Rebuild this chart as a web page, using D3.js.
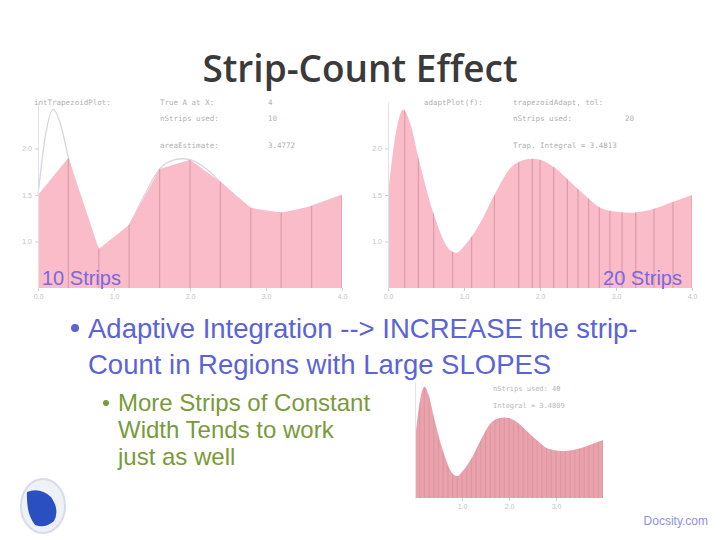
<!DOCTYPE html>
<html>
<head>
<meta charset="utf-8">
<script src="https://cdn.jsdelivr.net/npm/d3@7"></script>
<style>
  body { margin: 0; background: #fff; }
  svg { display: block; }
</style>
</head>
<body>
<div id="chart-container"></div>
<script>
const curveX = [0, 0.1, 0.2, 0.3, 0.4, 0.6, 0.8, 0.9, 1.0, 1.2, 1.4, 1.6, 1.8, 1.9, 2.0, 2.2, 2.4, 2.6, 2.8, 3.0, 3.2, 3.4, 3.6, 3.8, 4.0];
const curveY = [1.50, 2.15, 2.42, 2.25, 1.90, 1.30, 0.92, 0.88, 0.95, 1.18, 1.50, 1.78, 1.88, 1.89, 1.88, 1.79, 1.64, 1.49, 1.36, 1.32, 1.31, 1.33, 1.38, 1.44, 1.50];

// Bornes des bandes (strips)
const strips10 = [0, 0.4, 0.8, 1.2, 1.6, 2.0, 2.4, 2.8, 3.2, 3.6, 4.0];
const strips20 = [0, 0.22, 0.4, 0.6, 0.85, 1.1, 1.4, 1.72, 1.9, 2.0, 2.18, 2.36, 2.5, 2.64, 2.78, 2.92, 3.08, 3.26, 3.5, 3.75, 4.0];
const stripsMany = [0, 0.1, 0.2, 0.3, 0.4, 0.5, 0.6, 0.7, 0.8, 0.9, 1.0, 1.1, 1.2, 1.3, 1.4, 1.5, 1.6, 1.7, 1.8, 1.9, 2.0,
                    2.1, 2.2, 2.3, 2.4, 2.5, 2.6, 2.7, 2.8, 2.9, 3.0, 3.1, 3.2, 3.3, 3.4, 3.5, 3.6, 3.7, 3.8, 3.9, 4.0];

// Graduations
const xTicks = [0, 1, 2, 3, 4];
const xTicksSmall = [1, 2, 3];
const yTicks = [1, 1.5, 2];

// Textes
const titleText = "Strip-Count Effect";
const bulletLines = ["Adaptive Integration --> INCREASE the strip-", "Count in Regions with Large SLOPES"];
const subLines = ["More Strips of Constant", "Width Tends to work", "just as well"];
const panelNotes1 = [["intTrapezoidPlot:", "True A at X:", "4"], ["", "nStrips used:", "10"], ["", "areaEstimate:", "3.4772"]];
const panelNotes2 = [["adaptPlot(f):", "trapezoidAdapt, tol:", ""], ["", "nStrips used:", "20"], ["", "Trap. Integral = 3.4813", ""]];
const panelNotes3 = ["nStrips used: 40", "Integral = 3.4809"];

const points = curveX.map((x, i) => ({ x: x, y: curveY[i] }));
const valueAt = x => points.find(p => Math.abs(p.x - x) < 1e-9);

const svg = d3.select("#chart-container")
    .append("svg")
    .attr("width", 720)
    .attr("height", 540);

const defs = svg.append("defs");

// Titre
svg.append("text")
    .attr("x", 360)
    .attr("y", 82)
    .attr("text-anchor", "middle")
    .style("font-family", "'Open Sans', sans-serif")
    .style("font-size", "37px")
    .style("font-weight", 600)
    .style("fill", "#3a3a3a")
    .text(titleText);

// Fonction pour dessiner un panneau
function drawPanel(opt) {
    const x = d3.scaleLinear().domain([0, 4]).range(opt.xRange);
    const y = d3.scaleLinear().domain([0.5, 2.5]).range(opt.yRange);
    const g = svg.append("g");

    const smooth = d3.area()
        .x(d => x(d.x))
        .y0(y(0.5))
        .y1(d => y(d.y))
        .curve(d3.curveMonotoneX);

    const line = d3.line()
        .x(d => x(d.x))
        .y(d => y(d.y))
        .curve(d3.curveMonotoneX);

    let shapePath;
    if (opt.trapezoid) {
        const trap = opt.strips.map(s => valueAt(s));
        shapePath = d3.area().x(d => x(d.x)).y0(y(0.5)).y1(d => y(d.y))(trap);
        // courbe exacte en gris clair
        g.append("path")
            .attr("d", line(points))
            .attr("fill", "none")
            .attr("stroke", "#d6d6de")
            .attr("stroke-width", 1.3);
    } else {
        shapePath = smooth(points);
    }

    g.append("path")
        .attr("d", shapePath)
        .attr("fill", opt.fill);

    const clipId = "clip" + opt.id;
    defs.append("clipPath").attr("id", clipId)
        .append("path").attr("d", shapePath);

    g.append("g")
        .attr("clip-path", "url(#" + clipId + ")")
        .selectAll("line")
        .data(opt.strips)
        .enter().append("line")
        .attr("x1", d => x(d))
        .attr("x2", d => x(d))
        .attr("y1", y(0.5))
        .attr("y2", y(2.5))
        .attr("stroke", opt.stripColor)
        .attr("stroke-opacity", opt.stripOpacity)
        .attr("stroke-width", 1.2);

    // Axe des x
    const ax = g.append("g")
        .attr("transform", "translate(0," + y(0.5) + ")")
        .call(d3.axisBottom(x).tickValues(opt.xTicks).tickSize(3).tickSizeOuter(0));
    ax.select(".domain").remove();
    ax.selectAll("line").attr("stroke", "#d0d0d0");
    ax.selectAll("text").style("font-size", "7px").style("fill", "#c4c4c4");

    // Axe des y
    const ay = g.append("g")
        .attr("transform", "translate(" + opt.xRange[0] + ",0)")
        .call(d3.axisLeft(y).tickValues(opt.yTicks).tickSize(3).tickSizeOuter(0));
    ay.select(".domain").attr("stroke", "#e2e2e6");
    ay.selectAll("line").attr("stroke", "#d0d0d0");
    ay.selectAll("text").style("font-size", "7px").style("fill", "#c4c4c4");

    return { x: x, y: y, g: g };
}

drawPanel({ id: 1, xRange: [38, 342], yRange: [288, 102], strips: strips10, trapezoid: true,
    fill: "#f9bcc8", stripColor: "#b87888", stripOpacity: 0.45, xTicks: xTicks, yTicks: yTicks });
drawPanel({ id: 2, xRange: [388, 692], yRange: [288, 102], strips: strips20, trapezoid: false,
    fill: "#f9bcc8", stripColor: "#b87888", stripOpacity: 0.45, xTicks: xTicks, yTicks: yTicks });
drawPanel({ id: 3, xRange: [415, 603], yRange: [498, 382], strips: stripsMany, trapezoid: false,
    fill: "#eaa3ad", stripColor: "#c98390", stripOpacity: 0.35, xTicks: xTicksSmall, yTicks: [] });

// Petits textes dans les panneaux
function notes(rows, xs, ys) {
    rows.forEach((row, i) => {
        row.forEach((t, j) => {
            svg.append("text")
                .attr("x", xs[j])
                .attr("y", ys[i])
                .style("font-family", "'DejaVu Sans Mono', monospace")
                .style("font-size", "7.5px")
                .style("fill", "#b0b0b0")
                .text(t);
        });
    });
}
notes(panelNotes1, [34, 160, 268], [105, 121, 148]);
notes(panelNotes2, [424, 513, 625], [105, 121, 148]);
panelNotes3.forEach((t, i) => {
    svg.append("text")
        .attr("x", 493).attr("y", 391 + i * 17)
        .style("font-family", "'DejaVu Sans Mono', monospace")
        .style("font-size", "7px")
        .style("fill", "#b8b8b8")
        .text(t);
});

// Etiquettes des bandes
svg.append("text")
    .attr("x", 42).attr("y", 285)
    .style("font-family", "'Liberation Sans', Arial, sans-serif")
    .style("font-size", "20px")
    .style("fill", "#7a68e0")
    .text("10 Strips");
svg.append("text")
    .attr("x", 682).attr("y", 285)
    .attr("text-anchor", "end")
    .style("font-family", "'Liberation Sans', Arial, sans-serif")
    .style("font-size", "20px")
    .style("fill", "#7a68e0")
    .text("20 Strips");

// Puces
svg.append("circle").attr("cx", 75).attr("cy", 328).attr("r", 4).attr("fill", "#5b63d6");
bulletLines.forEach((t, i) => {
    svg.append("text")
        .attr("x", 88).attr("y", 338 + i * 36)
        .style("font-family", "'Liberation Sans', Arial, sans-serif")
        .style("font-size", "27.5px")
        .style("fill", "#5b63d6")
        .text(t);
});
svg.append("circle").attr("cx", 106).attr("cy", 403).attr("r", 3).attr("fill", "#7a9a3a");
subLines.forEach((t, i) => {
    svg.append("text")
        .attr("x", 118).attr("y", 411 + i * 27)
        .style("font-family", "'Liberation Sans', Arial, sans-serif")
        .style("font-size", "24px")
        .style("fill", "#7a9a3a")
        .text(t);
});

// Logo
svg.append("ellipse").attr("cx", 43).attr("cy", 506).attr("rx", 22).attr("ry", 27)
    .attr("fill", "#eef1f6").attr("stroke", "#d6dce8").attr("stroke-width", 2);
svg.append("path")
    .attr("d", "M27,492 Q40,487 51,497 Q60,510 54,521 Q45,529 35,525 Q26,514 27,492 Z")
    .attr("fill", "#2a4fc0");

svg.append("text")
    .attr("x", 708).attr("y", 525)
    .attr("text-anchor", "end")
    .style("font-family", "'Liberation Sans', Arial, sans-serif")
    .style("font-size", "12px")
    .style("fill", "#8f8fe0")
    .text("Docsity.com");
</script>
</body>
</html>
